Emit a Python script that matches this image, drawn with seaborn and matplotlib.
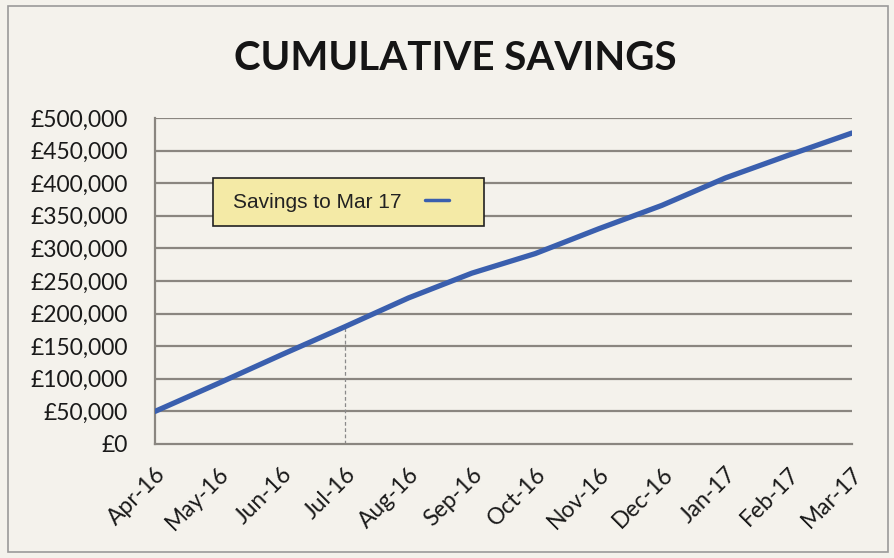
import matplotlib
matplotlib.use("Agg")
import matplotlib.pyplot as plt
import seaborn as sns
import pandas as pd
from matplotlib.ticker import FuncFormatter

months = ["Apr-16", "May-16", "Jun-16", "Jul-16", "Aug-16", "Sep-16",
          "Oct-16", "Nov-16", "Dec-16", "Jan-17", "Feb-17", "Mar-17"]
savings = [50000, 93000, 137000, 180000, 224000, 262000,
           292000, 330000, 366000, 408000, 443000, 477000]
series_name = "Savings to Mar 17"
title = "CUMULATIVE SAVINGS"

df = pd.DataFrame({"idx": range(len(months)), "month": months, "value": savings})

sns.set_theme(style="white")
plt.rcParams["font.family"] = ["Lato", "DejaVu Sans"]

bg = "#f4f2ec"
W, H = 895, 558
fig = plt.figure(figsize=(W / 100, H / 100), dpi=100, facecolor=bg)
ax = fig.add_axes([155 / W, 1 - 444 / H, (852 - 155) / W, (444 - 118) / H])
ax.set_facecolor(bg)

# outer border
fig.patches.append(plt.Rectangle((8 / W, 6 / H), 880 / W, 546 / H, transform=fig.transFigure,
                                 fill=False, edgecolor="#9a9a9a", linewidth=1.2))

ax.set_ylim(0, 500000)
ax.set_xlim(0, len(months) - 1)
ax.set_yticks(range(0, 500001, 50000))
for yv in range(50000, 500001, 50000):
    ax.axhline(yv, color="#8a8680", linewidth=1.6, zorder=1)

# dashed guide at Jul-16
ax.vlines(3, 0, savings[3], colors="#8a8a8a", linestyles=(0, (3, 2)), linewidth=0.9, zorder=2)

sns.lineplot(data=df, x="idx", y="value", ax=ax, color="#3a5fae", linewidth=3.8,
             label=series_name, zorder=3)

ax.yaxis.set_major_formatter(FuncFormatter(lambda v, p: f"£{int(v):,}"))
ax.set_xticks(range(len(months)))
ax.set_xticklabels(months, rotation=45, ha="right", rotation_mode="anchor")
ax.set_xlabel("")
ax.set_ylabel("")

for s in ["top", "right"]:
    ax.spines[s].set_visible(False)
for s in ["left", "bottom"]:
    ax.spines[s].set_color("#8a8680")
    ax.spines[s].set_linewidth(1.6)
ax.tick_params(axis="both", which="major", direction="out", width=1.4,
               color="#8a8680", labelcolor="#1a1a1a")
ax.tick_params(axis="y", length=8.5, pad=11, labelsize=16.5)
ax.tick_params(axis="x", length=7, pad=7, labelsize=16.5)

# legend box (drawn as a frame behind a frameless legend)
ax.add_patch(plt.Rectangle((213 / W, 1 - 226 / H), (484 - 213) / W, (226 - 178) / H,
                           transform=fig.transFigure, facecolor="#f4eaa6",
                           edgecolor="#222222", linewidth=1.2, zorder=4, clip_on=False))
leg = ax.legend(loc="center left", bbox_to_anchor=(233 / W, 1 - 202 / H),
                bbox_transform=fig.transFigure, borderaxespad=0, borderpad=0,
                markerfirst=False, frameon=False,
                prop={"family": "Liberation Sans", "size": 15},
                handlelength=1.15, handletextpad=1.15)
leg.set_zorder(5)
for t in leg.get_texts():
    t.set_color("#222222")
for l in leg.get_lines():
    l.set_linewidth(2.5)

fig.text(455 / W, 1 - 58 / H, title, ha="center", va="center", fontsize=29,
         fontweight="bold", color="#151515", family="Lato")

fig.savefig("out.png", dpi=100, facecolor=bg)
